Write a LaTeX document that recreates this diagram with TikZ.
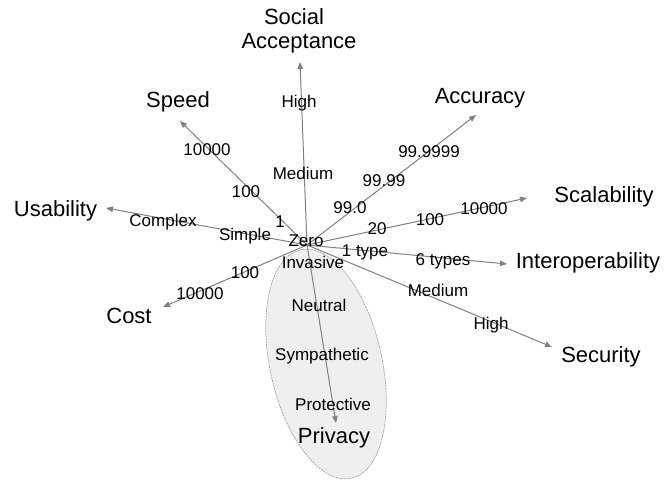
\documentclass[tikz,border=0pt]{standalone}
\usepackage{fontspec}
\setmainfont{Liberation Sans}
\usetikzlibrary{arrows.meta}
\definecolor{axisgray}{HTML}{808080}
\definecolor{zonefill}{HTML}{EFEFEF}
\definecolor{zoneline}{HTML}{A6A6A6}
\begin{document}
\begin{tikzpicture}[x=1pt,y=-1pt,
  axis/.style={draw=axisgray, line width=1pt, -{Triangle[length=7pt,width=5.5pt]}},
  dimname/.style={anchor=base, inner sep=0pt, font=\fontsize{22}{24}\selectfont},
  tick/.style={anchor=base, inner sep=0pt, font=\fontsize{17}{19}\selectfont},
  zone/.style={fill=zonefill, draw=zoneline, line width=0.7pt, dash pattern=on 2pt off 0.8pt}]
\useasboundingbox (0,0) rectangle (664,482);

% shaded region around the privacy axis
\draw[zone, rotate around={12.5:(326,364)}] (326,364) ellipse [x radius=56, y radius=117];

% common origin and axis end points
\coordinate (O) at (307,245);
\coordinate (tSoc) at (300,62);
\coordinate (tSpd) at (180,121);
\coordinate (tAcc) at (476,115);
\coordinate (tSca) at (527,198);
\coordinate (tUsa) at (106,208);
\coordinate (tInt) at (507,264);
\coordinate (tSec) at (552,347);
\coordinate (tCst) at (163,307);
\coordinate (tPri) at (336,423);

\foreach \t in {tSoc,tSpd,tAcc,tSca,tUsa,tInt,tSec,tCst,tPri}
  \draw[axis] (O) -- (\t);

% axis names
\node[dimname] (nSocA) at (294,24) {Social};
\node[dimname] (nSocB) at (299,48) {Acceptance};
\node[dimname] (nSpd) at (178,107) {Speed};
\node[dimname] (nAcc) at (480,103) {Accuracy};
\node[dimname] (nSca) at (604,202) {Scalability};
\node[dimname] (nUsa) at (55.5,216) {Usability};
\node[dimname] (nInt) at (588,268) {Interoperability};
\node[dimname] (nSec) at (601,362) {Security};
\node[dimname] (nCst) at (129,323) {Cost};
\node[dimname] (nPri) at (334,443) {Privacy};

% scale values along the axes
\node[tick] (zero) at (306,246) {Zero};
\node[tick] (soc1) at (299,107) {High};
\node[tick] (soc2) at (303,179) {Medium};
\node[tick] (spd1) at (280,227) {1};
\node[tick] (spd2) at (246,197) {100};
\node[tick] (spd3) at (207,155) {10000};
\node[tick] (acc1) at (350,213) {99.0};
\node[tick] (acc2) at (384,186) {99.99};
\node[tick] (acc3) at (429,157) {99.9999};
\node[tick] (sca1) at (377,234) {20};
\node[tick] (sca2) at (430,225) {100};
\node[tick] (sca3) at (484,214) {10000};
\node[tick] (usa1) at (245,240) {Simple};
\node[tick] (usa2) at (163,226) {Complex};
\node[tick] (int1) at (365,256) {1 type};
\node[tick] (int2) at (443,265) {6 types};
\node[tick] (sec1) at (438,296) {Medium};
\node[tick] (sec2) at (491,329) {High};
\node[tick] (cst1) at (245,278) {100};
\node[tick] (cst2) at (200,299) {10000};
\node[tick] (pri1) at (313,268) {Invasive};
\node[tick] (pri2) at (319,311) {Neutral};
\node[tick] (pri3) at (322,360) {Sympathetic};
\node[tick] (pri4) at (333,410) {Protective};
\end{tikzpicture}
\end{document}
